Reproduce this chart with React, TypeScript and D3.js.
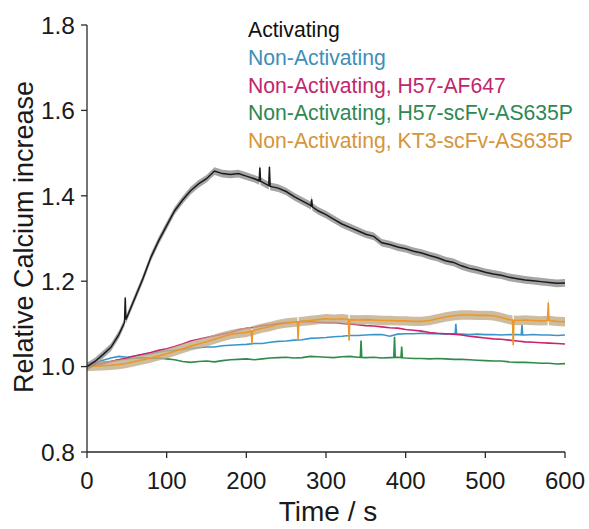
import React from "react";
import * as d3 from "d3";

const times = d3.range(0, 601, 10);

const activating = [1.0, 1.012, 1.028, 1.045, 1.075, 1.115, 1.16, 1.205, 1.255, 1.295, 1.33, 1.365, 1.39, 1.412, 1.428, 1.44, 1.458, 1.452, 1.45, 1.452, 1.446, 1.44, 1.432, 1.422, 1.418, 1.41, 1.398, 1.388, 1.378, 1.365, 1.356, 1.345, 1.334, 1.326, 1.318, 1.31, 1.305, 1.29, 1.286, 1.28, 1.276, 1.27, 1.266, 1.26, 1.255, 1.248, 1.244, 1.236, 1.23, 1.226, 1.221, 1.217, 1.214, 1.209, 1.206, 1.203, 1.201, 1.199, 1.197, 1.195, 1.196];
const nonActivating = [1.0, 1.008, 1.015, 1.02, 1.024, 1.022, 1.025, 1.028, 1.03, 1.034, 1.037, 1.038, 1.04, 1.043, 1.044, 1.046, 1.046, 1.049, 1.05, 1.051, 1.052, 1.054, 1.054, 1.057, 1.059, 1.06, 1.062, 1.063, 1.066, 1.067, 1.068, 1.07, 1.071, 1.073, 1.073, 1.074, 1.075, 1.075, 1.071, 1.076, 1.077, 1.077, 1.078, 1.077, 1.077, 1.076, 1.077, 1.076, 1.075, 1.076, 1.075, 1.075, 1.074, 1.075, 1.075, 1.074, 1.075, 1.074, 1.074, 1.073, 1.074];
const h57af647 = [1.0, 1.003, 1.007, 1.012, 1.016, 1.02, 1.025, 1.029, 1.033, 1.038, 1.042, 1.047, 1.053, 1.06, 1.064, 1.068, 1.072, 1.076, 1.08, 1.086, 1.09, 1.092, 1.096, 1.098, 1.101, 1.103, 1.104, 1.106, 1.105, 1.104, 1.103, 1.103, 1.101, 1.1, 1.098, 1.096, 1.095, 1.093, 1.091, 1.09, 1.087, 1.085, 1.083, 1.08, 1.078, 1.077, 1.076, 1.074, 1.071, 1.069, 1.067, 1.065, 1.064, 1.062, 1.06, 1.058, 1.057, 1.056, 1.055, 1.054, 1.053];
const h57scfv = [1.0, 1.006, 1.01, 1.012, 1.016, 1.018, 1.02, 1.021, 1.019, 1.02, 1.018, 1.016, 1.012, 1.01, 1.012, 1.013, 1.011, 1.014, 1.016, 1.017, 1.018, 1.016, 1.018, 1.02, 1.021, 1.022, 1.02, 1.021, 1.024, 1.023, 1.022, 1.021, 1.023, 1.024, 1.022, 1.021, 1.022, 1.02, 1.021, 1.022, 1.02, 1.019, 1.019, 1.018, 1.019, 1.018, 1.017, 1.017, 1.016, 1.015, 1.014, 1.013, 1.013, 1.011, 1.01, 1.01, 1.009, 1.008, 1.008, 1.006, 1.007];
const kt3scfv = [1.0, 1.001, 1.002, 1.003, 1.005, 1.008, 1.012, 1.016, 1.02, 1.025, 1.03, 1.036, 1.042, 1.048, 1.053, 1.058, 1.064, 1.07, 1.075, 1.078, 1.08, 1.085, 1.09, 1.094, 1.099, 1.102, 1.104, 1.106, 1.108, 1.11, 1.112, 1.111, 1.112, 1.11, 1.109, 1.11, 1.109, 1.108, 1.108, 1.107, 1.107, 1.106, 1.106, 1.108, 1.112, 1.116, 1.119, 1.121, 1.121, 1.12, 1.12, 1.119, 1.115, 1.11, 1.108, 1.109, 1.108, 1.107, 1.108, 1.106, 1.105];

// spikes: [time, peak]
const activatingSpikes: [number, number][] = [[48, 1.162], [217, 1.466], [229, 1.468], [282, 1.392]];
const nonActivatingSpikes: [number, number][] = [[463, 1.1], [546, 1.098]];
const h57af647Spikes: [number, number][] = [];
const h57scfvSpikes: [number, number][] = [[344, 1.061], [386, 1.07], [395, 1.047]];
const kt3scfvSpikes: [number, number][] = [[207, 1.054], [265, 1.065], [329, 1.061], [535, 1.05], [579, 1.15]];

const legendLabels = [
  "Activating",
  "Non-Activating",
  "Non-Activating, H57-AF647",
  "Non-Activating, H57-scFv-AS635P",
  "Non-Activating, KT3-scFv-AS635P",
];
const legendColors = ["#111111", "#3d8fb8", "#c0276c", "#2f8753", "#d6953a"];

const xTicks = [0, 100, 200, 300, 400, 500, 600];
const yTicks = [0.8, 1.0, 1.2, 1.4, 1.6, 1.8];

type Pt = [number, number];

function buildSeries(vals: number[], spikes: Pt[]): Pt[] {
  const pts: Pt[] = times.map((t, i) => [t, vals[i]] as Pt);
  const baseAt = (t: number) => {
    const i = Math.min(Math.floor(t / 10), times.length - 2);
    const f = (t - times[i]) / 10;
    return vals[i] * (1 - f) + vals[i + 1] * f;
  };
  spikes.forEach(([t, v]) => {
    pts.push([t - 0.9, baseAt(t - 0.9)]);
    pts.push([t, v]);
    pts.push([t + 0.9, baseAt(t + 0.9)]);
  });
  pts.sort((a, b) => a[0] - b[0]);
  return pts;
}

export default function App() {
  const W = 589;
  const H = 529;
  const x = d3.scaleLinear().domain([0, 600]).range([87, 565]);
  const y = d3.scaleLinear().domain([0.8, 1.8]).range([452, 25]);

  const line = d3
    .line<Pt>()
    .x((d) => x(d[0]))
    .y((d) => y(d[1]));
  const band = (w: number) =>
    d3
      .area<Pt>()
      .x((d) => x(d[0]))
      .y0((d) => y(d[1] - w))
      .y1((d) => y(d[1] + w));

  const sAct = buildSeries(activating, activatingSpikes);
  const sNon = buildSeries(nonActivating, nonActivatingSpikes);
  const sAf = buildSeries(h57af647, h57af647Spikes);
  const sScfv = buildSeries(h57scfv, h57scfvSpikes);
  const sKt3 = buildSeries(kt3scfv, kt3scfvSpikes);

  const font = "'Liberation Sans', Arial, sans-serif";
  const axisColor = "#2a2a2a";

  return (
    <svg
      width={W}
      height={H}
      style={{ position: "absolute", left: 0, top: 0, background: "#fff" }}
      fontFamily={font}
    >
      {/* series */}
      <path d={line(sScfv) || ""} fill="none" stroke="#2e8b4a" strokeWidth={1.6} />
      <path d={line(sNon) || ""} fill="none" stroke="#3b95c8" strokeWidth={1.6} />
      <path d={line(sAf) || ""} fill="none" stroke="#cc2370" strokeWidth={1.6} />
      <path d={band(0.011)(sKt3) || ""} fill="#c2ab88" opacity={0.8} />
      <path d={line(sKt3) || ""} fill="none" stroke="#ec972a" strokeWidth={1.6} />
      <path d={band(0.009)(sAct) || ""} fill="#8f8f8f" opacity={0.8} />
      <path d={line(sAct) || ""} fill="none" stroke="#1a1a1a" strokeWidth={1.5} />

      {/* axes */}
      <line x1={87} x2={87} y1={y(1.8)} y2={y(0.8)} stroke={axisColor} strokeWidth={1.3} />
      <line x1={x(0)} x2={x(600)} y1={452} y2={452} stroke={axisColor} strokeWidth={1.3} />
      {yTicks.map((t) => (
        <g key={"y" + t}>
          <line x1={81} x2={87} y1={y(t)} y2={y(t)} stroke={axisColor} strokeWidth={1.3} />
          <text x={75} y={y(t)} dy="0.36em" textAnchor="end" fontSize={24.5} fill="#1a1a1a">
            {t.toFixed(1)}
          </text>
        </g>
      ))}
      {xTicks.map((t) => (
        <g key={"x" + t}>
          <line x1={x(t)} x2={x(t)} y1={452} y2={458} stroke={axisColor} strokeWidth={1.3} />
          <text x={x(t)} y={489} textAnchor="middle" fontSize={24} fill="#1a1a1a">
            {t}
          </text>
        </g>
      ))}
      <text x={328} y={521} textAnchor="middle" fontSize={28} fill="#1a1a1a">
        Time / s
      </text>
      <text
        transform="translate(33,237) rotate(-90)"
        textAnchor="middle"
        fontSize={27}
        fill="#1a1a1a"
      >
        Relative Calcium increase
      </text>

      {/* legend */}
      {legendLabels.map((l, i) => (
        <text key={l} x={248} y={37 + i * 27.8} fontSize={21.2} fill={legendColors[i]}>
          {l}
        </text>
      ))}
    </svg>
  );
}
